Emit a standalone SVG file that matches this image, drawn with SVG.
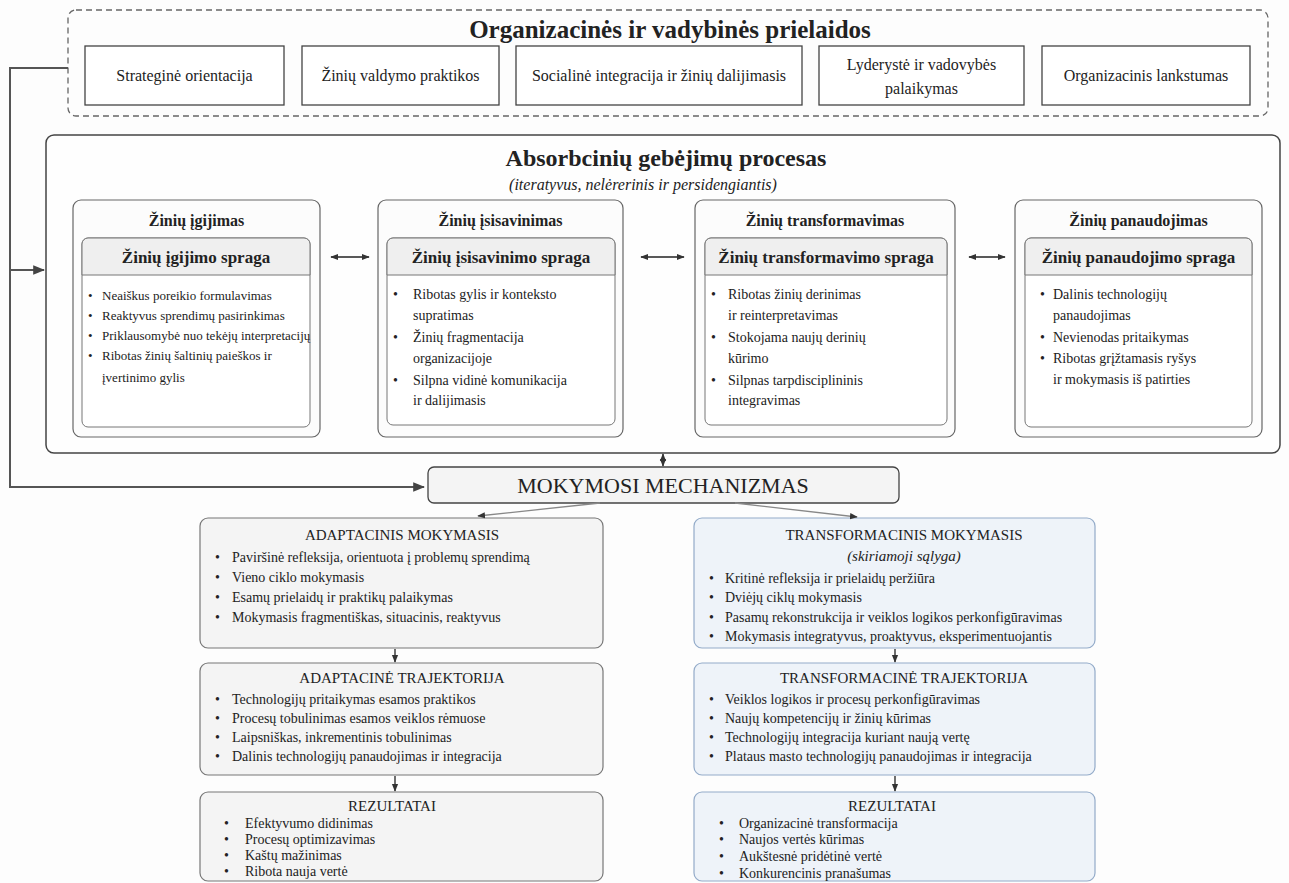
<svg xmlns="http://www.w3.org/2000/svg" width="1289" height="883" viewBox="0 0 1289 883">
<defs>
<style>
text{font-family:"Liberation Serif","Times New Roman",serif;fill:#222}
.ttl{font-weight:bold;text-anchor:middle}
.top{font-size:16px;text-anchor:middle}
.stg{fill:#fcfcfc;stroke:#666;stroke-width:1.2}
.hdr{fill:#efefef;stroke:#777;stroke-width:1}
.inb{fill:#fff;stroke:#777;stroke-width:1}
.bl{font-size:14px}
.bla{font-size:13px}
.bt{font-size:14px}
.bh{font-size:15px;text-anchor:middle}
.lbox{fill:#f4f4f4;stroke:#777;stroke-width:1.2}
.rbox{fill:#eef3f9;stroke:#93abc9;stroke-width:1.2}
.con{fill:none;stroke:#555;stroke-width:2}
.thin{fill:none;stroke:#222;stroke-width:1.3}
.gl{fill:none;stroke:#888;stroke-width:1.3}
</style>
<marker id="ah" viewBox="0 0 10 10" refX="9" refY="5" markerWidth="6" markerHeight="6" orient="auto-start-reverse"><path d="M0,1 L10,5 L0,9 z" fill="#333"/></marker>
<marker id="ahs" viewBox="0 0 10 10" refX="9" refY="5" markerWidth="6" markerHeight="6" orient="auto-start-reverse"><path d="M0,1 L10,5 L0,9 z" fill="#444"/></marker>
</defs>
<rect width="1289" height="883" fill="#fdfdfd"/>

<g id="prielaidos">
<rect x="68" y="10" width="1200" height="106" rx="8" fill="none" stroke="#666" stroke-width="1.3" stroke-dasharray="6,4"/>
<text x="670" y="38" class="ttl" font-size="25">Organizacinės ir vadybinės prielaidos</text>
</g>
<g id="p1"><rect x="85" y="46" width="199" height="59" fill="#fff" stroke="#444" stroke-width="1.3"/><text x="184.5" y="81" class="top">Strateginė orientacija</text></g>
<g id="p2"><rect x="302" y="46" width="197" height="59" fill="#fff" stroke="#444" stroke-width="1.3"/><text x="400.5" y="81" class="top">Žinių valdymo praktikos</text></g>
<g id="p3"><rect x="516" y="46" width="286" height="59" fill="#fff" stroke="#444" stroke-width="1.3"/><text x="659" y="81" class="top">Socialinė integracija ir žinių dalijimasis</text></g>
<g id="p4"><rect x="819" y="46" width="205" height="59" fill="#fff" stroke="#444" stroke-width="1.3"/><text x="921.5" y="70" class="top">Lyderystė ir vadovybės</text><text x="921.5" y="94" class="top">palaikymas</text></g>
<g id="p5"><rect x="1042" y="46" width="208" height="59" fill="#fff" stroke="#444" stroke-width="1.3"/><text x="1146" y="81" class="top">Organizacinis lankstumas</text></g>

<g id="absorbcija">
<rect x="46" y="135" width="1234" height="318" rx="8" fill="#fefefe" stroke="#444" stroke-width="1.5"/>
<text x="666" y="166" class="ttl" font-size="24">Absorbcinių gebėjimų procesas</text>
<text x="643" y="190" font-size="16" font-style="italic" text-anchor="middle">(iteratyvus, nelėrerinis ir persidengiantis)</text>
</g>

<g id="s1">
<rect x="73" y="200" width="247" height="237" rx="8" class="stg"/>
<text x="196.5" y="226" class="ttl" font-size="16">Žinių įgijimas</text>
<rect x="82" y="238" width="228" height="189" rx="6" class="inb"/>
<path d="M82,275 V244 a6,6 0 0 1 6,-6 H304 a6,6 0 0 1 6,6 V275 Z" class="hdr"/>
<text x="196" y="263" class="ttl" font-size="17">Žinių įgijimo spraga</text>
<g class="bla">
<text x="88" y="300">•</text><text x="102" y="300">Neaiškus poreikio formulavimas</text>
<text x="88" y="320">•</text><text x="102" y="320">Reaktyvus sprendimų pasirinkimas</text>
<text x="88" y="340">•</text><text x="102" y="340">Priklausomybė nuo tekėjų interpretacijų</text>
<text x="88" y="360">•</text><text x="102" y="360">Ribotas žinių šaltinių paieškos ir</text>
<text x="102" y="382">įvertinimo gylis</text>
</g>
</g>

<g id="s2">
<rect x="378" y="200" width="245" height="237" rx="8" class="stg"/>
<text x="500.5" y="226" class="ttl" font-size="16">Žinių įsisavinimas</text>
<rect x="387" y="238" width="228" height="187" rx="6" class="inb"/>
<path d="M387,275 V244 a6,6 0 0 1 6,-6 H609 a6,6 0 0 1 6,6 V275 Z" class="hdr"/>
<text x="501" y="263" class="ttl" font-size="17">Žinių įsisavinimo spraga</text>
<g class="bl">
<text x="393" y="299">•</text><text x="413" y="299">Ribotas gylis ir konteksto</text>
<text x="413" y="320">supratimas</text>
<text x="393" y="342">•</text><text x="413" y="342">Žinių fragmentacija</text>
<text x="413" y="363">organizacijoje</text>
<text x="393" y="385">•</text><text x="413" y="385">Silpna vidinė komunikacija</text>
<text x="413" y="405">ir dalijimasis</text>
</g>
</g>

<g id="s3">
<rect x="695" y="200" width="260" height="237" rx="8" class="stg"/>
<text x="825" y="226" class="ttl" font-size="16">Žinių transformavimas</text>
<rect x="705" y="238" width="242" height="187" rx="6" class="inb"/>
<path d="M705,275 V244 a6,6 0 0 1 6,-6 H941 a6,6 0 0 1 6,6 V275 Z" class="hdr"/>
<text x="826" y="263" class="ttl" font-size="17">Žinių transformavimo spraga</text>
<g class="bl">
<text x="711" y="299">•</text><text x="728" y="299">Ribotas žinių derinimas</text>
<text x="728" y="320">ir reinterpretavimas</text>
<text x="711" y="342">•</text><text x="728" y="342">Stokojama naujų derinių</text>
<text x="728" y="363">kūrimo</text>
<text x="711" y="385">•</text><text x="728" y="385">Silpnas tarpdisciplininis</text>
<text x="728" y="405">integravimas</text>
</g>
</g>

<g id="s4">
<rect x="1015" y="200" width="247" height="237" rx="8" class="stg"/>
<text x="1138.5" y="226" class="ttl" font-size="16">Žinių panaudojimas</text>
<rect x="1025" y="238" width="227" height="189" rx="6" class="inb"/>
<path d="M1025,275 V244 a6,6 0 0 1 6,-6 H1246 a6,6 0 0 1 6,6 V275 Z" class="hdr"/>
<text x="1138.5" y="263" class="ttl" font-size="17">Žinių panaudojimo spraga</text>
<g class="bl">
<text x="1040" y="299">•</text><text x="1053" y="299">Dalinis technologijų</text>
<text x="1053" y="320">panaudojimas</text>
<text x="1040" y="342">•</text><text x="1053" y="342">Nevienodas pritaikymas</text>
<text x="1040" y="363">•</text><text x="1053" y="363">Ribotas grįžtamasis ryšys</text>
<text x="1053" y="384">ir mokymasis iš patirties</text>
</g>
</g>

<g id="mechanizmas">
<rect x="428" y="467" width="471" height="36" rx="6" fill="#f4f4f4" stroke="#444" stroke-width="1.3"/>
<text x="663" y="493" font-size="22" text-anchor="middle">MOKYMOSI MECHANIZMAS</text>
</g>

<g id="adapt-mok">
<rect x="200" y="518" width="403" height="130" rx="8" class="lbox"/>
<text x="402" y="540" class="bh">ADAPTACINIS MOKYMASIS</text>
<g class="bt">
<text x="215" y="562">•</text><text x="232" y="562">Paviršinė refleksija, orientuota į problemų sprendimą</text>
<text x="215" y="582">•</text><text x="232" y="582">Vieno ciklo mokymasis</text>
<text x="215" y="602">•</text><text x="232" y="602">Esamų prielaidų ir praktikų palaikymas</text>
<text x="215" y="622">•</text><text x="232" y="622">Mokymasis fragmentiškas, situacinis, reaktyvus</text>
</g>
</g>
<g id="adapt-traj">
<rect x="200" y="663" width="403" height="112" rx="8" class="lbox"/>
<text x="402" y="683" class="bh">ADAPTACINĖ TRAJEKTORIJA</text>
<g class="bt">
<text x="215" y="704">•</text><text x="232" y="704">Technologijų pritaikymas esamos praktikos</text>
<text x="215" y="723">•</text><text x="232" y="723">Procesų tobulinimas esamos veiklos rėmuose</text>
<text x="215" y="742">•</text><text x="232" y="742">Laipsniškas, inkrementinis tobulinimas</text>
<text x="215" y="761">•</text><text x="232" y="761">Dalinis technologijų panaudojimas ir integracija</text>
</g>
</g>
<g id="adapt-rez">
<rect x="200" y="792" width="403" height="89" rx="8" class="lbox"/>
<text x="392" y="811" class="bh">REZULTATAI</text>
<g class="bt">
<text x="224" y="828">•</text><text x="245" y="828">Efektyvumo didinimas</text>
<text x="224" y="844">•</text><text x="245" y="844">Procesų optimizavimas</text>
<text x="224" y="860">•</text><text x="245" y="860">Kaštų mažinimas</text>
<text x="224" y="876">•</text><text x="245" y="876">Ribota nauja vertė</text>
</g>
</g>

<g id="transf-mok">
<rect x="694" y="518" width="401" height="130" rx="8" class="rbox"/>
<text x="904" y="540" class="bh">TRANSFORMACINIS MOKYMASIS</text>
<text x="904" y="561" class="bh" font-style="italic">(skiriamoji sąlyga)</text>
<g class="bt">
<text x="709" y="583">•</text><text x="725" y="583">Kritinė refleksija ir prielaidų peržiūra</text>
<text x="709" y="602">•</text><text x="725" y="602">Dviėjų ciklų mokymasis</text>
<text x="709" y="622">•</text><text x="725" y="622">Pasamų rekonstrukcija ir veiklos logikos perkonfigūravimas</text>
<text x="709" y="641">•</text><text x="725" y="641">Mokymasis integratyvus, proaktyvus, eksperimentuojantis</text>
</g>
</g>
<g id="transf-traj">
<rect x="694" y="663" width="401" height="112" rx="8" class="rbox"/>
<text x="904" y="683" class="bh">TRANSFORMACINĖ TRAJEKTORIJA</text>
<g class="bt">
<text x="709" y="704">•</text><text x="725" y="704">Veiklos logikos ir procesų perkonfigūravimas</text>
<text x="709" y="723">•</text><text x="725" y="723">Naujų kompetencijų ir žinių kūrimas</text>
<text x="709" y="742">•</text><text x="725" y="742">Technologijų integracija kuriant naują vertę</text>
<text x="709" y="761">•</text><text x="725" y="761">Plataus masto technologijų panaudojimas ir integracija</text>
</g>
</g>
<g id="transf-rez">
<rect x="694" y="792" width="401" height="89" rx="8" class="rbox"/>
<text x="892" y="811" class="bh">REZULTATAI</text>
<g class="bt">
<text x="719" y="828">•</text><text x="739" y="828">Organizacinė transformacija</text>
<text x="719" y="844">•</text><text x="739" y="844">Naujos vertės kūrimas</text>
<text x="719" y="861">•</text><text x="739" y="861">Aukštesnė pridėtinė vertė</text>
<text x="719" y="878">•</text><text x="739" y="878">Konkurencinis pranašumas</text>
</g>
</g>

<g id="connectors">
<path d="M68,68 H10 V487 H424" class="con" marker-end="url(#ahs)"/>
<path d="M10,270 H44" class="con" marker-end="url(#ahs)"/>
<path d="M331,257 H369" class="thin" marker-start="url(#ah)" marker-end="url(#ah)"/>
<path d="M641,257 H684" class="thin" marker-start="url(#ah)" marker-end="url(#ah)"/>
<path d="M969,257 H1005" class="thin" marker-start="url(#ah)" marker-end="url(#ah)"/>
<path d="M663,454 V466" class="thin" marker-start="url(#ah)" marker-end="url(#ah)"/>
<path d="M600,503 L478,516" class="gl" marker-end="url(#ah)"/>
<path d="M735,503 L857,517" class="gl" marker-end="url(#ah)"/>
<path d="M395,649 V662" class="thin" marker-end="url(#ah)"/>
<path d="M395,776 V791" class="thin" marker-end="url(#ah)"/>
<path d="M895,649 V662" class="thin" marker-end="url(#ah)"/>
<path d="M895,776 V791" class="thin" marker-end="url(#ah)"/>
</g>
</svg>
